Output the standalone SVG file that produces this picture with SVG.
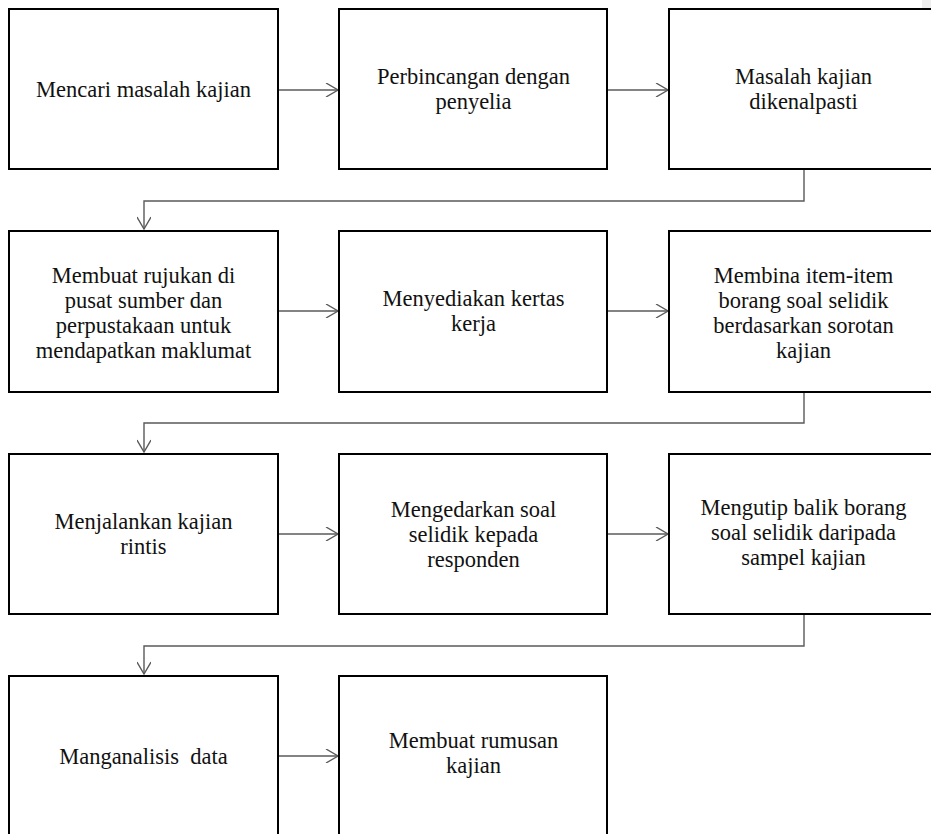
<svg xmlns="http://www.w3.org/2000/svg" width="931" height="834" viewBox="0 0 931 834">
<style>
.box{fill:#fff;stroke:#000;stroke-width:2}
.t{font-family:'Liberation Serif',serif;font-size:22.5px;fill:#111;text-anchor:middle}
.c{fill:none;stroke:#5a5a5a;stroke-width:1.4}
</style>
<defs>
<marker id="ah" viewBox="0 0 14 14" refX="13" refY="7" markerWidth="14" markerHeight="14" markerUnits="userSpaceOnUse" orient="auto">
<path d="M1,0 L13,7 L1,14" fill="none" stroke="#5a5a5a" stroke-width="1.4"/>
</marker>
</defs>
<rect width="931" height="834" fill="#fff"/>
<rect x="922" y="0" width="9" height="15" fill="#eeeeee"/>
<g id="connectors">
<path class="c" d="M279,90 H338" marker-end="url(#ah)"/>
<path class="c" d="M608,90 H668" marker-end="url(#ah)"/>
<path class="c" d="M804,170 V201 H144 V229" marker-end="url(#ah)"/>
<path class="c" d="M279,311 H338" marker-end="url(#ah)"/>
<path class="c" d="M608,311 H668" marker-end="url(#ah)"/>
<path class="c" d="M804,392 V423 H144 V452" marker-end="url(#ah)"/>
<path class="c" d="M279,534 H338" marker-end="url(#ah)"/>
<path class="c" d="M608,534 H668" marker-end="url(#ah)"/>
<path class="c" d="M804,615 V646 H144 V674" marker-end="url(#ah)"/>
<path class="c" d="M279,756 H338" marker-end="url(#ah)"/>
</g>
<g id="n1"><rect class="box" x="9" y="9" width="269" height="160"/>
<text class="t" x="143.5" y="97" font-family="Liberation Serif">Mencari masalah kajian</text></g>
<g id="n2"><rect class="box" x="339" y="9" width="268" height="160"/>
<text class="t" x="473.5" y="84" font-family="Liberation Serif">Perbincangan dengan</text>
<text class="t" x="473.5" y="109" font-family="Liberation Serif">penyelia</text></g>
<g id="n3"><rect class="box" x="669" y="9" width="270" height="160"/>
<text class="t" x="803.5" y="84" font-family="Liberation Serif">Masalah kajian</text>
<text class="t" x="803.5" y="109" font-family="Liberation Serif">dikenalpasti</text></g>
<g id="n4"><rect class="box" x="9" y="231" width="269" height="161"/>
<text class="t" x="143.5" y="282.5" font-family="Liberation Serif">Membuat rujukan di</text>
<text class="t" x="143.5" y="307.5" font-family="Liberation Serif">pusat sumber dan</text>
<text class="t" x="143.5" y="332.5" font-family="Liberation Serif">perpustakaan untuk</text>
<text class="t" x="143.5" y="357.5" font-family="Liberation Serif">mendapatkan maklumat</text></g>
<g id="n5"><rect class="box" x="339" y="231" width="268" height="161"/>
<text class="t" x="473.5" y="306" font-family="Liberation Serif">Menyediakan kertas</text>
<text class="t" x="473.5" y="331" font-family="Liberation Serif">kerja</text></g>
<g id="n6"><rect class="box" x="669" y="231" width="270" height="161"/>
<text class="t" x="803.5" y="282.5" font-family="Liberation Serif">Membina item-item</text>
<text class="t" x="803.5" y="307.5" font-family="Liberation Serif">borang soal selidik</text>
<text class="t" x="803.5" y="332.5" font-family="Liberation Serif">berdasarkan sorotan</text>
<text class="t" x="803.5" y="357.5" font-family="Liberation Serif">kajian</text></g>
<g id="n7"><rect class="box" x="9" y="454" width="269" height="160"/>
<text class="t" x="143.5" y="529" font-family="Liberation Serif">Menjalankan kajian</text>
<text class="t" x="143.5" y="554" font-family="Liberation Serif">rintis</text></g>
<g id="n8"><rect class="box" x="339" y="454" width="268" height="160"/>
<text class="t" x="473.5" y="517" font-family="Liberation Serif">Mengedarkan soal</text>
<text class="t" x="473.5" y="542" font-family="Liberation Serif">selidik kepada</text>
<text class="t" x="473.5" y="567" font-family="Liberation Serif">responden</text></g>
<g id="n9"><rect class="box" x="669" y="454" width="270" height="160"/>
<text class="t" x="803.5" y="515" font-family="Liberation Serif">Mengutip balik borang</text>
<text class="t" x="803.5" y="540" font-family="Liberation Serif">soal selidik daripada</text>
<text class="t" x="803.5" y="565" font-family="Liberation Serif">sampel kajian</text></g>
<g id="n10"><rect class="box" x="9" y="676" width="269" height="162"/>
<text class="t" x="143.5" y="764" font-family="Liberation Serif" xml:space="preserve">Manganalisis  data</text></g>
<g id="n11"><rect class="box" x="339" y="676" width="268" height="162"/>
<text class="t" x="473.5" y="748" font-family="Liberation Serif">Membuat rumusan</text>
<text class="t" x="473.5" y="773" font-family="Liberation Serif">kajian</text></g>
</svg>
